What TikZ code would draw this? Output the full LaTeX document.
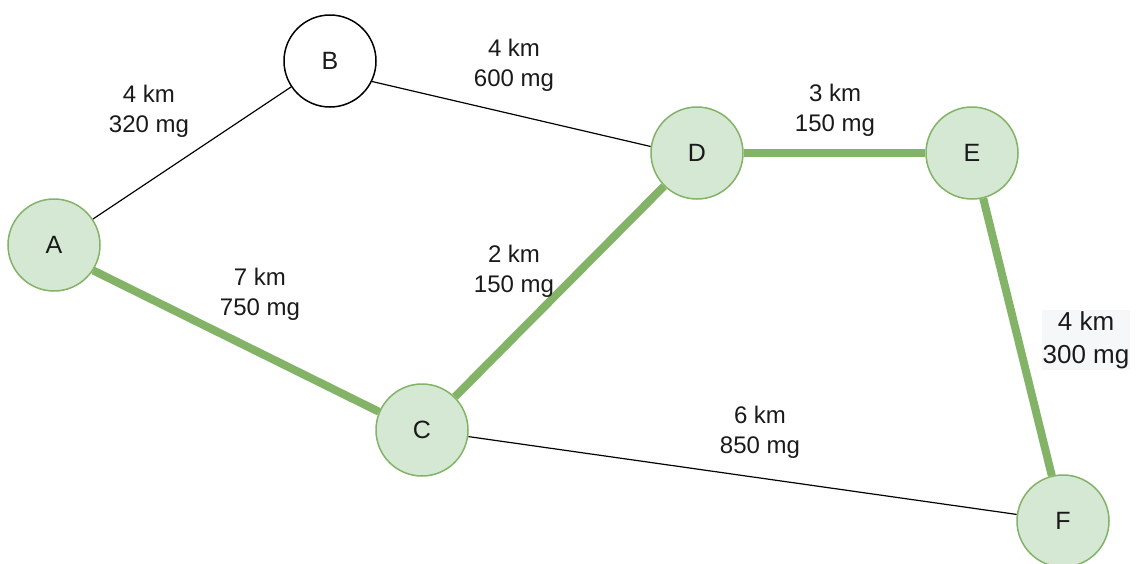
\documentclass[tikz,border=0pt]{standalone}
\usepackage{fontspec}
\setmainfont{Liberation Sans}
\usetikzlibrary{backgrounds}
\definecolor{nodefill}{HTML}{D5E8D4}
\definecolor{nodeline}{HTML}{82B366}
\definecolor{labelbg}{HTML}{F6F7F8}
\definecolor{ink}{HTML}{1A1A1A}
\begin{document}
\begin{tikzpicture}[x=1pt,y=-1pt,
  station/.style={circle,draw=nodeline,fill=nodefill,line width=1.5pt,
    minimum size=92pt,inner sep=0pt,font=\fontsize{25}{30}\selectfont,text=ink},
  plain/.style={station,draw=black,fill=white},
  road/.style={draw=black,line width=1.2pt},
  route/.style={draw=nodeline,line width=8pt},
  cost/.style={align=center,font=\fontsize{24}{30}\selectfont,text=ink,inner sep=2pt}]
\useasboundingbox (0,0) rectangle (1142,563);

% stations
\node[station] (A) at (54,245) {A};
\node[plain]   (B) at (330,61) {B};
\node[station] (C) at (422,430) {C};
\node[station] (D) at (697,153) {D};
\node[station] (E) at (972,153) {E};
\node[station] (F) at (1063,521) {F};

% connections: thin roads and the highlighted route
\begin{scope}[on background layer]
\fill[white] (0,0) rectangle (1142,563);
\draw[road] (A) -- (B);
\draw[road] (B.-26.6) -- (D.172.7);
\draw[road] (C) -- (F);
\draw[route] (A.-33) -- (C.157);
\draw[route] (C) -- (D);
\draw[route] (D) -- (E);
\draw[route] (E) -- (F);
\end{scope}

% distance / cost labels
\node[cost] (lab) at (149,111) {4 km\\320 mg};
\node[cost] (lbd) at (514,65) {4 km\\600 mg};
\node[cost] (lde) at (835,110) {3 km\\150 mg};
\node[cost] (lac) at (260,294) {7 km\\750 mg};
\node[cost] (lcd) at (514,271) {2 km\\150 mg};
\node[cost] (lcf) at (760,432) {6 km\\850 mg};
\node[cost,fill=labelbg,font=\fontsize{26}{33}\selectfont,inner sep=1pt] (lef) at (1086,340) {4 km\\300 mg};
\end{tikzpicture}
\end{document}
